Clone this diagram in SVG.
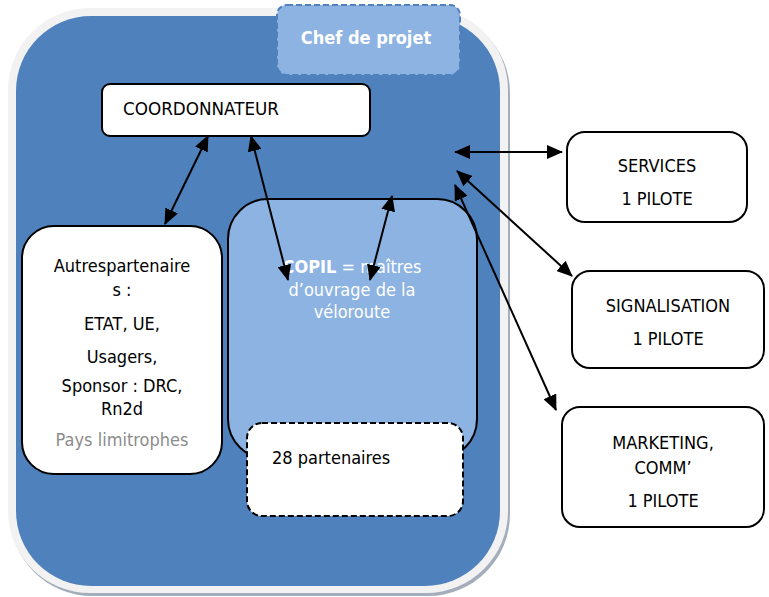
<svg xmlns="http://www.w3.org/2000/svg" width="769" height="597" viewBox="0 0 769 597">
  <defs>
    <marker id="head" viewBox="0 0 16 14" refX="15" refY="7" markerWidth="16" markerHeight="14" markerUnits="userSpaceOnUse" orient="auto-start-reverse">
      <path d="M0,0 L16,7 L0,14 z" fill="#000"/>
    </marker>
  </defs>
  <style>
    text { font-family: "DejaVu Sans Condensed", "DejaVu Sans", sans-serif; font-stretch: condensed; font-size: 18px; fill: #000; }
    .box { fill: #fff; stroke: #000; stroke-width: 2; }
    .mid { text-anchor: middle; }
    .light { fill: #fff; }
    .grey { fill: #8c8c8c; }
    .conn line { stroke: #000; stroke-width: 2; marker-start: url(#head); marker-end: url(#head); }
  </style>

  <rect width="769" height="597" fill="#fff"/>

  <!-- outer container -->
  <g id="container">
    <rect x="10" y="11" width="500" height="585" rx="82" fill="#a3adbb"/>
    <rect x="8" y="8" width="500" height="585" rx="82" fill="#f2f2f2"/>
    <rect x="16" y="16" width="484" height="570" rx="75" fill="#4f81bd"/>
  </g>

  <g id="chef">
    <rect x="277" y="5" width="183" height="70" rx="10" fill="#8db3e2" stroke="#4f81bd" stroke-width="2" stroke-dasharray="6 3"/>
    <text x="366" y="44" class="mid light" font-weight="bold">Chef de projet</text>
  </g>

  <g id="coordonnateur">
    <rect class="box" x="102" y="84" width="268" height="52" rx="8"/>
    <text x="123" y="115" textLength="156" lengthAdjust="spacingAndGlyphs">COORDONNATEUR</text>
  </g>

  <g id="autres">
    <rect class="box" x="22" y="226" width="200" height="248" rx="32"/>
    <text x="122" y="272" class="mid">Autrespartenaire</text>
    <text x="122" y="296" class="mid">s :</text>
    <text x="122" y="330" class="mid">ETAT, UE,</text>
    <text x="122" y="363" class="mid">Usagers,</text>
    <text x="122" y="392" class="mid">Sponsor : DRC,</text>
    <text x="122" y="415" class="mid">Rn2d</text>
    <text x="122" y="446" class="mid grey">Pays limitrophes</text>
  </g>

  <g id="copil">
    <rect x="228" y="199" width="249" height="260" rx="40" fill="#8db3e2" stroke="#000" stroke-width="2"/>
    <text x="352" y="273" class="mid light"><tspan font-weight="bold">COPIL</tspan> = maîtres</text>
    <text x="352" y="296" class="mid light">d’ouvrage de la</text>
    <text x="352" y="318" class="mid light">véloroute</text>
  </g>

  <g id="partenaires">
    <rect x="247" y="423" width="216" height="93" rx="15" fill="#fff" stroke="#000" stroke-width="2" stroke-dasharray="6 3"/>
    <text x="272" y="464">28 partenaires</text>
  </g>

  <g id="services">
    <rect class="box" x="567" y="132" width="180" height="90" rx="18"/>
    <text x="657" y="172" class="mid">SERVICES</text>
    <text x="657" y="205" class="mid">1 PILOTE</text>
  </g>

  <g id="signalisation">
    <rect class="box" x="572" y="271" width="192" height="97" rx="18"/>
    <text x="668" y="312" class="mid">SIGNALISATION</text>
    <text x="668" y="345" class="mid">1 PILOTE</text>
  </g>

  <g id="marketing">
    <rect class="box" x="562" y="407" width="202" height="120" rx="18"/>
    <text x="663" y="449" class="mid">MARKETING,</text>
    <text x="663" y="474" class="mid">COMM’</text>
    <text x="663" y="507" class="mid">1 PILOTE</text>
  </g>

  <g id="connectors" class="conn">
    <line x1="455" y1="152" x2="562" y2="152"/>
    <line x1="457" y1="171" x2="572" y2="276"/>
    <line x1="455" y1="185" x2="556" y2="410"/>
    <line x1="208" y1="136" x2="165" y2="224"/>
    <line x1="251" y1="136" x2="288" y2="280"/>
    <line x1="392" y1="196" x2="370" y2="280"/>
  </g>
</svg>
